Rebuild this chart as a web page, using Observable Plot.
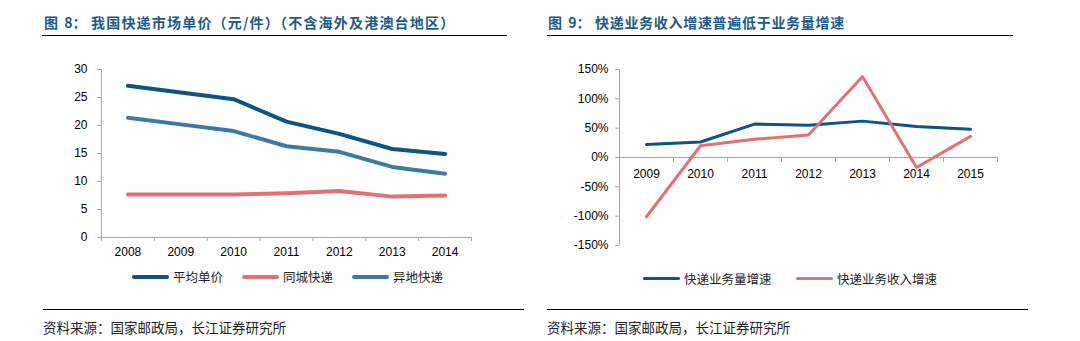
<!DOCTYPE html>
<html><head><meta charset="utf-8">
<script src="https://cdn.jsdelivr.net/npm/d3@7"></script>
<script src="https://cdn.jsdelivr.net/npm/@observablehq/plot@0.6"></script>
<style>
body{margin:0;background:#fff;}
#root{position:relative;width:1080px;height:341px;overflow:hidden;font-family:"Liberation Sans","Noto Sans CJK SC",sans-serif;}
.abs{position:absolute;white-space:nowrap;}
.title{font-family:"Noto Sans CJK SC";font-weight:bold;font-size:14px;color:#1d5a8a;line-height:18px;}
.title .pre{display:inline-block;width:47px;white-space:pre;letter-spacing:0;}
.hr{position:absolute;height:0;border-top:1.5px solid #000;}
.src{font-family:"Noto Sans CJK SC";font-size:13.5px;color:#222;line-height:16px;}
.sw{position:absolute;height:4px;border-radius:2px;}
.lg{font-family:"Noto Sans CJK SC";font-size:12.5px;color:#222;line-height:16px;}
.plot{position:absolute;top:0;}
</style></head>
<body><div id="root"></div>
<script>
// ---- data ----
const yearsL = [2008, 2009, 2010, 2011, 2012, 2013, 2014];
const seriesL = ["平均单价", "同城快递", "异地快递"];
const avgPrice = [27.1, 25.9, 24.7, 20.7, 18.5, 15.8, 14.9];
const intraCity = [7.7, 7.7, 7.7, 7.9, 8.3, 7.3, 7.5];
const interCity = [21.4, 20.2, 19.0, 16.3, 15.3, 12.6, 11.4];
const yTicksL = [0, 5, 10, 15, 20, 25, 30];

const yearsR = [2009, 2010, 2011, 2012, 2013, 2014, 2015];
const seriesR = ["快递业务量增速", "快递业务收入增速"];
const volumeGrowth = [0.22, 0.265, 0.57, 0.55, 0.62, 0.53, 0.48];
const revenueGrowth = [-1.01, 0.20, 0.31, 0.385, 1.38, -0.17, 0.36];
const yTicksR = [-1.5, -1.0, -0.5, 0, 0.5, 1.0, 1.5];

const titlePreL = "图  8：";
const titleL = "我国快递市场单价（元/件）（不含海外及港澳台地区）";
const titlePreR = "图  9：";
const titleR = "快递业务收入增速普遍低于业务量增速";
const source = "资料来源：国家邮政局，长江证券研究所";

const colorsL = ["#0c5386", "#e47172", "#3a7ba4"];
const colorsR = ["#0c5386", "#e47172"];
const axisGrey = "#a6a6a6";

const root = document.getElementById("root");
function add(html){ root.insertAdjacentHTML("beforeend", html); }

// ---- left chart ----
const tidyL = yearsL.flatMap((y, i) => [
  {year: y, v: avgPrice[i], s: seriesL[0]},
  {year: y, v: intraCity[i], s: seriesL[1]},
  {year: y, v: interCity[i], s: seriesL[2]}
]);
const bL = yearsL.map(y => y - 0.5).concat([yearsL[yearsL.length - 1] + 0.5]);
const left = Plot.plot({
  width: 540, height: 341,
  marginLeft: 101, marginRight: 69, marginTop: 69, marginBottom: 104,
  x: {domain: [bL[0], bL[bL.length - 1]], axis: null},
  y: {domain: [0, 30]},
  color: {domain: seriesL, range: colorsL},
  style: {fontFamily: "Liberation Sans", fontSize: "12px", color: "#000", background: "transparent"},
  marks: [
    Plot.ruleX([bL[0]], {stroke: axisGrey}),
    Plot.ruleY([0], {stroke: axisGrey}),
    Plot.axisY({ticks: yTicksL, tickSize: 4, tickPadding: 10, stroke: axisGrey, fill: "#000", label: null}),
    Plot.ruleX(bL, {y1: 0, y2: 0, insetBottom: -4, stroke: axisGrey}),
    Plot.text(yearsL, {x: d => d, y: 0, dy: 15, text: d => String(d), fill: "#000"}),
    Plot.line(tidyL, {x: "year", y: "v", z: "s", stroke: "s", strokeWidth: 4, strokeLinejoin: "round", strokeLinecap: "round"})
  ]
});
left.classList.add("plot");
left.style.left = "0px";
root.appendChild(left);

// ---- right chart ----
const tidyR = yearsR.flatMap((y, i) => [
  {year: y, v: volumeGrowth[i], s: seriesR[0]},
  {year: y, v: revenueGrowth[i], s: seriesR[1]}
]);
const bR = yearsR.map(y => y - 0.5).concat([yearsR[yearsR.length - 1] + 0.5]);
const right = Plot.plot({
  width: 540, height: 341,
  marginLeft: 79, marginRight: 83, marginTop: 69, marginBottom: 96,
  x: {domain: [bR[0], bR[bR.length - 1]], axis: null},
  y: {domain: [-1.5, 1.5]},
  color: {domain: seriesR, range: colorsR},
  style: {fontFamily: "Liberation Sans", fontSize: "12px", color: "#000", background: "transparent"},
  marks: [
    Plot.ruleX([bR[0]], {stroke: axisGrey}),
    Plot.ruleY([0], {stroke: axisGrey}),
    Plot.axisY({ticks: yTicksR, tickFormat: d => Math.round(d * 100) + "%", tickSize: 4, tickPadding: 7, stroke: axisGrey, fill: "#000", label: null}),
    Plot.ruleX(bR, {y1: 0, y2: 0, insetBottom: -5, stroke: axisGrey}),
    Plot.text(yearsR, {x: d => d, y: 0, dy: 17, text: d => String(d), fill: "#000"}),
    Plot.line(tidyR, {x: "year", y: "v", z: "s", stroke: "s", strokeWidth: 3, strokeLinejoin: "round", strokeLinecap: "round"})
  ]
});
right.classList.add("plot");
right.style.left = "540px";
root.appendChild(right);

// ---- titles, rules, legends, sources ----
add(`<div class="abs title" style="left:44px;top:13px"><span class="pre">${titlePreL}</span><span style="letter-spacing:1.2px">${titleL}</span></div>`);
add(`<div class="abs title" style="left:548px;top:13px"><span class="pre">${titlePreR}</span><span style="letter-spacing:0.7px">${titleR}</span></div>`);
add(`<div class="hr" style="left:42px;width:465px;top:35px"></div>`);
add(`<div class="hr" style="left:547px;width:466px;top:35px"></div>`);
add(`<div class="hr" style="left:43px;width:481px;top:309px"></div>`);
add(`<div class="hr" style="left:547px;width:481px;top:309px"></div>`);
add(`<div class="abs src" style="left:43px;top:319px">${source}</div>`);
add(`<div class="abs src" style="left:547px;top:319px">${source}</div>`);

const legL = [132, 242, 352];
seriesL.forEach((s, i) => {
  add(`<div class="sw" style="left:${legL[i]}px;top:275px;width:37px;background:${colorsL[i]}"></div>`);
  add(`<div class="abs lg" style="left:${legL[i] + 41}px;top:269px">${s}</div>`);
});
const legR = [643, 796];
seriesR.forEach((s, i) => {
  add(`<div class="sw" style="left:${legR[i]}px;top:277px;width:37px;height:3px;background:${colorsR[i]}"></div>`);
  add(`<div class="abs lg" style="left:${legR[i] + 41}px;top:271px">${s}</div>`);
});
</script>
</body></html>
